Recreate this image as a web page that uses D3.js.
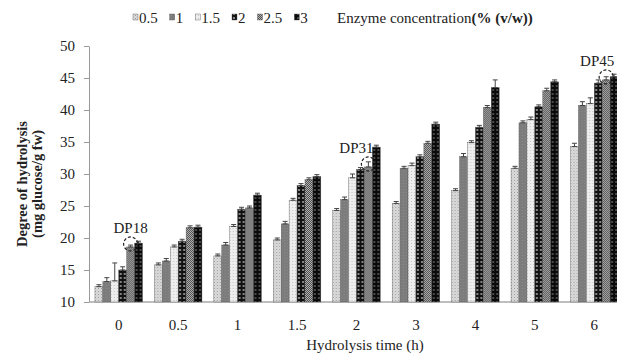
<!DOCTYPE html>
<html>
<head>
<meta charset="utf-8">
<script src="https://cdn.jsdelivr.net/npm/d3@7/dist/d3.min.js"></script>
<style>
  body { margin: 0; background: #fff; }
  text { font-family: "Liberation Serif", "Times New Roman", serif; fill: #222; }
</style>
</head>
<body>
<svg id="chart" width="617" height="358"></svg>
<script>
// hydrolysis time groups (h)
var groups = ["0", "0.5", "1", "1.5", "2", "3", "4", "5", "6"];
// enzyme concentration series (% v/w)
var series = ["0.5", "1", "1.5", "2", "2.5", "3"];

// degree of hydrolysis, one array per series, across groups
var s05 = [12.4, 15.8, 17.2, 19.7, 24.3, 25.4, 27.4, 30.9, 34.3];
var s1  = [13.2, 16.4, 18.9, 22.2, 26.0, 30.9, 32.7, 38.0, 40.7];
var s15 = [13.3, 18.6, 21.8, 25.9, 29.4, 31.3, 34.9, 38.5, 41.0];
var s2  = [15.0, 19.5, 24.5, 28.2, 30.7, 32.7, 37.3, 40.5, 44.2];
var s25 = [18.6, 21.6, 24.7, 29.1, 31.1, 34.8, 40.4, 43.0, 44.7];
var s3  = [19.2, 21.7, 26.7, 29.6, 34.2, 37.8, 43.5, 44.4, 45.2];

// error bars
var e05 = [0.3, 0.3, 0.3, 0.3, 0.3, 0.3, 0.3, 0.3, 0.5];
var e1  = [0.6, 0.4, 0.4, 0.4, 0.4, 0.3, 0.5, 0.3, 0.6];
var e15 = [2.8, 0.3, 0.3, 0.3, 0.6, 0.4, 0.3, 0.4, 0.9];
var e2  = [0.5, 0.3, 0.3, 0.3, 0.3, 0.3, 0.3, 0.3, 0.5];
var e25 = [0.3, 0.3, 0.3, 0.3, 0.8, 0.3, 0.3, 0.4, 0.5];
var e3  = [0.3, 0.3, 0.3, 0.3, 0.3, 0.3, 1.2, 0.3, 0.4];

var yTicks = [10, 15, 20, 25, 30, 35, 40, 45, 50];

// DP annotations: group and series they point at
var notes = [
  {group: "0", serie: "2.5", label: "DP18", dx: 0},
  {group: "2", serie: "2.5", label: "DP31", dx: -12},
  {group: "6", serie: "2.5", label: "DP45", dx: -9}
];

var values = [s05, s1, s15, s2, s25, s3];
var errors = [e05, e1, e15, e2, e25, e3];

var svg = d3.select("#chart");

var x0 = d3.scaleBand().domain(groups).range([89, 624]).paddingInner(0.2).paddingOuter(0.1);
var x1 = d3.scaleBand().domain(series).range([0, x0.bandwidth()]);
var y = d3.scaleLinear().domain([10, 50]).range([302, 46]);

/*
Fill patterns for the six series.
*/
var defs = svg.append("defs");
function pattern(id, w, bg, marks){
  var p = defs.append("pattern").attr("id", id)
    .attr("width", w).attr("height", w)
    .attr("patternUnits", "userSpaceOnUse");
  p.append("rect").attr("width", w).attr("height", w).style("fill", bg);
  marks.forEach(function(m){
    if (m.r) p.append("circle").attr("cx", m.x).attr("cy", m.y).attr("r", m.r).style("fill", m.c);
    else p.append("rect").attr("x", m.x).attr("y", m.y).attr("width", m.w).attr("height", m.w).style("fill", m.c);
  });
}
pattern("p0", 3, "#dcdcdc", [{x:0, y:0, w:1, c:"#9a9a9a"}, {x:1.5, y:1.5, w:1, c:"#b5b5b5"}]);
pattern("p1", 3, "#7c7c7c", [{x:0, y:0, w:1, c:"#8a8a8a"}]);
pattern("p2", 3, "#eeeeee", [{x:0, y:0, w:1, c:"#c4c4c4"}]);
pattern("p3", 4, "#111111", [{x:2, y:2, r:0.9, c:"#bdbdbd"}]);
pattern("p4", 2, "#b4b4b4", [{x:0, y:0, w:1, c:"#4d4d4d"}, {x:1, y:1, w:1, c:"#4d4d4d"}]);
pattern("p5", 4, "#0a0a0a", [{x:2, y:2, r:0.8, c:"#9a9a9a"}]);

// axes
var yAxis = svg.append("g")
  .attr("transform", "translate(89,0)")
  .call(d3.axisLeft(y).tickValues(yTicks).tickSize(5).tickSizeOuter(0).tickPadding(9));
yAxis.selectAll("line").style("stroke", "#9a9a9a");
yAxis.select(".domain").style("stroke", "#9a9a9a");
yAxis.selectAll("text").style("font-size", "15px").style("font-family", "Liberation Serif").style("fill", "#222");

var xAxis = svg.append("g")
  .attr("transform", "translate(0,302)")
  .call(d3.axisBottom(x0).tickSize(0).tickPadding(17));
xAxis.select(".domain").remove();
xAxis.selectAll("text").style("font-size", "15px").style("font-family", "Liberation Serif").style("fill", "#222");
svg.append("line")
  .attr("x1", 89).attr("x2", 617).attr("y1", 302).attr("y2", 302)
  .style("stroke", "#a8a8a8").style("stroke-width", 1.5);

// bars
var rows = [];
groups.forEach(function(g, gi){
  series.forEach(function(s, si){
    rows.push({group: g, serie: s, si: si, v: values[si][gi], e: errors[si][gi]});
  });
});

var bars = svg.append("g").selectAll("g")
  .data(rows)
  .enter()
  .append("g")
  .attr("transform", function(d){return "translate(" + (x0(d.group) + x1(d.serie)) + ",0)";});

bars.append("rect")
  .attr("y", function(d){return y(d.v);})
  .attr("width", x1.bandwidth())
  .attr("height", function(d){return y(10) - y(d.v);})
  .style("fill", function(d){return "url(#p" + d.si + ")";})
  .style("stroke", "#555")
  .style("stroke-width", 0.4);

// error bars, upper half with cap
var cw = 2.5, bw = x1.bandwidth() / 2;
bars.append("path")
  .attr("d", function(d){
    var t = y(d.v + d.e), b = y(d.v);
    return "M" + bw + "," + b + "V" + t + "M" + (bw - cw) + "," + t + "H" + (bw + cw)
      + "M" + (bw - cw) + "," + b + "H" + (bw + cw);
  })
  .style("stroke", "#444")
  .style("stroke-width", 1)
  .style("fill", "none");

// DP annotations
var ann = svg.append("g").selectAll("g")
  .data(notes)
  .enter()
  .append("g")
  .attr("transform", function(d){
    var gi = groups.indexOf(d.group), si = series.indexOf(d.serie);
    return "translate(" + (x0(d.group) + x1(d.serie) + bw) + "," + (y(values[si][gi]) - 3) + ")";
  });
ann.append("ellipse")
  .attr("rx", 7).attr("ry", 7)
  .style("fill", "none").style("stroke", "#222").style("stroke-width", 1.2)
  .style("stroke-dasharray", "3,2");
ann.append("text")
  .text(function(d){return d.label;})
  .attr("x", function(d){return d.dx;})
  .attr("y", -11)
  .attr("text-anchor", "middle")
  .style("font-size", "15px");

// y title
svg.append("text")
  .attr("transform", "translate(27,184) rotate(-90)")
  .attr("text-anchor", "middle")
  .style("font-size", "14.5px").style("font-weight", "bold")
  .text("Degree of hydrolysis");
svg.append("text")
  .attr("transform", "translate(42,184) rotate(-90)")
  .attr("text-anchor", "middle")
  .style("font-size", "14.5px").style("font-weight", "bold")
  .text("(mg glucose/g fw)");

// x title
svg.append("text")
  .attr("x", 365).attr("y", 350)
  .attr("text-anchor", "middle")
  .style("font-size", "15px")
  .text("Hydrolysis time (h)");

// legend
var lx = 133, ly = 23;
var legend = svg.append("g");
series.forEach(function(s, si){
  legend.append("rect")
    .attr("x", lx).attr("y", ly - 9).attr("width", 5).attr("height", 6)
    .style("fill", "url(#p" + si + ")").style("stroke", "#555").style("stroke-width", 0.4);
  var t = legend.append("text").attr("x", lx + 6).attr("y", ly)
    .style("font-size", "15px").text(s);
  lx += 6 + t.node().getComputedTextLength() + 12;
});
var title = legend.append("text").attr("x", 337).attr("y", ly).style("font-size", "15px");
title.append("tspan").text("Enzyme concentration");
title.append("tspan").style("font-weight", "bold").text("(% (v/w))");
</script>
</body>
</html>
